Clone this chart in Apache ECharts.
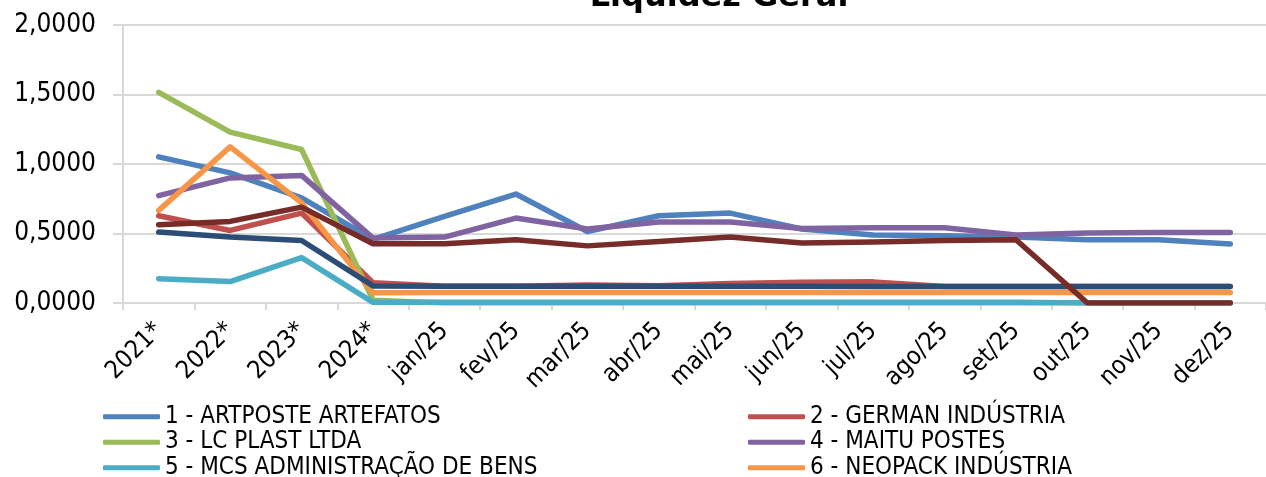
<!DOCTYPE html>
<html>
<head>
<meta charset="utf-8">
<title>Liquidez Geral</title>
<script src="https://cdn.jsdelivr.net/npm/echarts@6/dist/echarts.min.js"></script>
<style>
  html, body { margin: 0; padding: 0; background: #ffffff; }
  #chart { width: 1266px; height: 477px; }
</style>
</head>
<body>
<div id="chart"></div>
<script>
// Periods on the horizontal axis
const categories = ['2021*', '2022*', '2023*', '2024*', 'jan/25', 'fev/25', 'mar/25', 'abr/25',
  'mai/25', 'jun/25', 'jul/25', 'ago/25', 'set/25', 'out/25', 'nov/25', 'dez/25'];

// Vertical axis ticks
const yTicks = [0, 0.5, 1, 1.5, 2];

// Liquidez geral per company
const artposte = [1.051, 0.936, 0.756, 0.458, 0.623, 0.784, 0.514, 0.628, 0.647, 0.532, 0.490, 0.483, 0.474, 0.455, 0.455, 0.424];
const german   = [0.628, 0.522, 0.647, 0.146, 0.120, 0.120, 0.130, 0.125, 0.140, 0.150, 0.152, 0.118, 0.118, 0.118, 0.118, 0.118];
const lcPlast  = [1.515, 1.229, 1.104, 0.020, 0.000, 0.000, 0.000, 0.000, 0.000, 0.000, 0.000, 0.000, 0.000, 0.002, 0.002, 0.002];
const maitu    = [0.772, 0.900, 0.918, 0.467, 0.474, 0.611, 0.532, 0.582, 0.582, 0.536, 0.541, 0.541, 0.490, 0.503, 0.507, 0.507];
const mcs      = [0.175, 0.154, 0.327, 0.005, 0.005, 0.005, 0.005, 0.005, 0.005, 0.005, 0.005, 0.005, 0.005, 0.000, 0.000, 0.000];
const neopack  = [0.666, 1.123, 0.720, 0.074, 0.075, 0.075, 0.075, 0.075, 0.075, 0.075, 0.075, 0.075, 0.075, 0.075, 0.075, 0.075];
const serie7   = [0.510, 0.474, 0.450, 0.123, 0.120, 0.120, 0.120, 0.120, 0.120, 0.120, 0.118, 0.118, 0.118, 0.118, 0.118, 0.118];
const serie8   = [0.563, 0.587, 0.690, 0.426, 0.426, 0.455, 0.411, 0.442, 0.474, 0.431, 0.438, 0.450, 0.455, 0.000, 0.000, 0.000];

const seriesDefs = [
  { name: '1 - ARTPOSTE ARTEFATOS', data: artposte, color: '#4F81BD' },
  { name: '2 - GERMAN INDÚSTRIA', data: german, color: '#C0504D' },
  { name: '3 - LC PLAST LTDA', data: lcPlast, color: '#9BBB59' },
  { name: '4 - MAITU POSTES', data: maitu, color: '#8064A2' },
  { name: '5 - MCS ADMINISTRAÇÃO DE BENS', data: mcs, color: '#4BACC6' },
  { name: '6 - NEOPACK INDÚSTRIA', data: neopack, color: '#F79646' },
  { name: '7', data: serie7, color: '#2C4D75' },
  { name: '8', data: serie8, color: '#772C2A' }
];

const FONT = '"DejaVu Sans Condensed", "DejaVu Sans", sans-serif';
const fmt = v => v.toFixed(4).replace('.', ',');

const chart = echarts.init(document.getElementById('chart'), null, { renderer: 'canvas' });

const legendText = { fontFamily: FONT, fontSize: 24, color: '#000', lineHeight: 25.5 };
const legendCommon = {
  orient: 'vertical', icon: 'roundRect', itemWidth: 57, itemHeight: 5, itemGap: 0,
  height: 120, textStyle: legendText, selectedMode: false, padding: 0
};

chart.setOption({
  animation: false,
  backgroundColor: '#ffffff',
  title: {
    text: 'Liquidez Geral',
    left: 714, top: -23, textAlign: 'center',
    textStyle: { fontFamily: '"DejaVu Sans", sans-serif', fontWeight: 'bold', fontSize: 32, color: '#000' }
  },
  grid: { left: 123, top: 25, width: 1148, height: 278, containLabel: false },
  legend: [
    Object.assign({ left: 103, top: 404, data: [seriesDefs[0].name, seriesDefs[2].name, seriesDefs[4].name] }, legendCommon),
    Object.assign({ left: 748, top: 404, data: [seriesDefs[1].name, seriesDefs[3].name, seriesDefs[5].name] }, legendCommon)
  ],
  xAxis: {
    type: 'category',
    data: categories,
    boundaryGap: true,
    axisLine: { show: true, lineStyle: { color: '#D9D9D9', width: 2 } },
    axisTick: { show: true, length: 7, alignWithLabel: false, lineStyle: { color: '#D9D9D9', width: 2 } },
    axisLabel: { rotate: 45, margin: 24, interval: 0, fontFamily: FONT, fontSize: 25, color: '#000' }
  },
  yAxis: {
    type: 'value',
    min: yTicks[0], max: yTicks[yTicks.length - 1], interval: 0.5,
    axisLine: { show: true, lineStyle: { color: '#D9D9D9', width: 2 } },
    axisTick: { show: true, length: 10, lineStyle: { color: '#D9D9D9', width: 2 } },
    splitLine: { show: true, lineStyle: { color: '#D9D9D9', width: 2 } },
    axisLabel: { formatter: fmt, margin: 27, fontFamily: FONT, fontSize: 26, color: '#000' }
  },
  series: seriesDefs.map(s => ({
    name: s.name,
    type: 'line',
    data: s.data,
    symbol: 'none',
    smooth: false,
    color: s.color,
    lineStyle: { width: 5.5, color: s.color, cap: 'round', join: 'round' }
  }))
});
</script>
</body>
</html>
